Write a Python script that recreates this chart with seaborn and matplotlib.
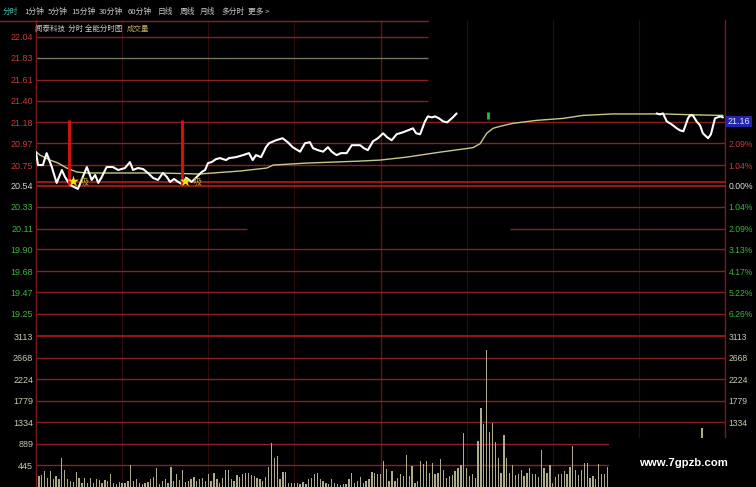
import numpy as np
import pandas as pd
import matplotlib.pyplot as plt
import matplotlib.transforms as mtransforms
from matplotlib.patches import Rectangle
from matplotlib.lines import Line2D
import seaborn as sns

# ---- 数据（从截图读出的估计值） ----
# 分时价格（白线），分钟 / 价格，seg 为截图中断开的两段
price_min = [0, 0.7, 2.4, 3.7, 5.5, 7.2, 9.0, 10.1, 11.8, 14.6, 15.9, 17.7, 19.4, 20.6, 21.7,
             22.9, 24.6, 26.8, 28.6, 31.0, 32.7, 33.8, 35.5, 37.3, 39.0, 40.8, 42.5, 44.2, 45.6,
             46.7, 48.1, 49.5, 50.7, 52.5, 54.2, 56.0, 57.7, 58.9, 59.9, 61.2, 62.7, 64.1, 66.2,
             67.2, 69.7, 72.1, 74.2, 75.5, 76.6, 78.4, 80.1, 81.2, 83.6, 85.9, 87.7, 89.4, 92.0,
             93.7, 95.4, 96.5, 98.2, 100.0, 101.7, 103.0, 104.7, 106.2, 108.2, 110.0, 112.9,
             114.2, 115.6, 117.4, 119.1, 120.9, 122.3, 123.9, 125.6, 127.8, 129.6, 131.3, 132.4,
             133.8, 135.5, 136.5, 137.9, 139.0, 140.4, 141.8, 143.2, 145.2, 146.5,
             216.2, 217.3, 218.4, 219.7, 221.4, 223.2, 224.3, 225.5, 227.1, 227.8, 228.8, 230.1,
             231.3, 232.3, 234.1, 235.1, 236.5, 238.3, 239.3]
price_val = [20.88, 20.75, 20.75, 20.87, 20.73, 20.57, 20.70, 20.63, 20.55, 20.51, 20.60, 20.73,
             20.60, 20.65, 20.57, 20.63, 20.73, 20.73, 20.70, 20.72, 20.78, 20.70, 20.72, 20.71,
             20.67, 20.62, 20.60, 20.67, 20.63, 20.58, 20.61, 20.58, 20.56, 20.62, 20.58, 20.63,
             20.68, 20.70, 20.77, 20.78, 20.81, 20.82, 20.80, 20.82, 20.83, 20.85, 20.87, 20.80,
             20.85, 20.83, 20.93, 20.97, 21.00, 21.02, 20.98, 20.93, 20.885, 20.97, 20.98, 20.92,
             20.90, 20.885, 20.93, 20.885, 20.85, 20.87, 20.87, 20.95, 20.95, 20.92, 20.90, 20.99,
             21.02, 21.07, 21.03, 21.00, 21.06, 21.08, 21.10, 21.12, 21.07, 21.06, 21.19, 21.24,
             21.23, 21.24, 21.22, 21.19, 21.18, 21.23, 21.27,
             21.27, 21.26, 21.27, 21.19, 21.16, 21.12, 21.10, 21.09, 21.22, 21.25, 21.25, 21.19,
             21.15, 21.07, 21.02, 21.06, 21.22, 21.24, 21.23]
price_seg = [0] * 91 + [1] * 19

# 均价线（黄线）
avg_min = [0, 1.4, 4.9, 7.7, 10.7, 14.2, 17.7, 43.2, 56.8, 71.1, 80.4, 82.6, 94.3, 112.9, 119.8,
           129.1, 140.7, 152.2, 154.7, 157.0, 159.2, 161.6, 166.1, 174.4, 183.6, 190.5, 201.0,
           218.4, 230.1, 239.3]
avg_val = [20.885, 20.85, 20.80, 20.77, 20.72, 20.68, 20.67, 20.67, 20.66, 20.69, 20.72, 20.75,
           20.77, 20.79, 20.80, 20.83, 20.88, 20.925, 20.965, 21.07, 21.12, 21.14, 21.17, 21.20,
           21.22, 21.25, 21.265, 21.265, 21.255, 21.25]

# 成交量（每分钟），上午+下午前段
vol_a = [620, 228, 240, 330, 190, 330, 160, 230, 160, 590, 360, 160, 120, 100, 300, 190, 90, 190,
         90, 190, 75, 170, 150, 90, 150, 120, 260, 90, 55, 100, 80, 90, 120, 450, 120, 170, 90, 55,
         90, 110, 160, 200, 400, 60, 120, 160, 90, 410, 125, 260, 150, 350, 110, 120, 160, 215,
         120, 160, 195, 120, 260, 125, 295, 160, 90, 195, 350, 350, 160, 120, 240, 210, 260, 280,
         285, 240, 225, 190, 160, 120, 200, 420, 910, 600, 640, 160, 310, 300, 90, 75, 90, 90, 55,
         100, 55, 160, 195, 260, 280, 170, 120, 75, 55, 160, 90]
vol_b = [55, 41, 55, 69, 159, 283, 90, 124, 207, 90, 124, 159, 317, 297, 262, 262, 538, 366, 124,
         331, 124, 193, 262, 228, 662, 228, 435, 90, 124, 538, 483, 538, 297, 504, 262, 297, 573,
         345, 193, 228, 248, 331, 400, 455, 1104, 400, 228, 276, 193, 952, 1628, 1297, 2829, 1125,
         1311, 918, 607, 297, 1076, 593, 297, 455, 248, 276, 345, 228, 297, 400, 276, 262, 207,
         759, 386, 297, 455, 90, 207, 262, 262, 331, 262, 414, 849, 345, 248, 345, 504, 504, 193,
         228, 159, 483, 262, 262, 414]
vol_late_min = [232]
vol_late = [1220]

# 信号（红竖线 + 星标）
signal_min = [11.6, 50.8]
signal_lo, signal_hi = 20.55, 21.20
star_min = [12.8, 51.9]
star_val = [20.59, 20.59]

# 刻度
price_ticks = [22.04, 21.83, 21.61, 21.40, 21.18, 20.97, 20.75, 20.54,
               20.33, 20.11, 19.90, 19.68, 19.47, 19.25]
pct_ticks = [20.97, 20.75, 20.54, 20.33, 20.11, 19.90, 19.68, 19.47, 19.25]
pct_labels = ["2.09%", "1.04%", "0.00%", "1.04%", "2.09%", "3.13%", "4.17%", "5.22%", "6.26%"]
vol_ticks = [3113, 2668, 2224, 1779, 1334, 889, 445]
prev_close = 20.54
last_price_label = "21.16"

menu_items = ["分时", "1分钟", "5分钟", "15分钟", "30分钟", "60分钟", "日线", "周线", "月线", "多分时", "更多 >"]

# ---- 样式 ----
sns.set_theme(style="dark", rc={"figure.facecolor": "black", "axes.facecolor": "black",
                                "savefig.facecolor": "black"})
plt.rcParams['font.family'] = ['Noto Sans CJK SC', 'DejaVu Sans']

W, H = 756, 487
RED = "#8a2020"
DIM = "#2e0b0b"


def box(x0, y0, x1, y1):
    return [x0 / W, 1 - y1 / H, (x1 - x0) / W, (y1 - y0) / H]


fig = plt.figure(figsize=(W / 100, H / 100), dpi=100)
ax = fig.add_axes(box(36, 20, 725, 325))
axv = fig.add_axes(box(36, 325, 725, 487))

ax.set_xlim(0, 240)
ax.set_ylim(19.139, 22.211)
axv.set_xlim(0, 240)
axv.set_ylim(0, 3340)

for a in (ax, axv):
    a.set_facecolor("black")
    a.grid(False)
    for s in ("top", "bottom"):
        a.spines[s].set_visible(False)
    for s in ("left", "right"):
        a.spines[s].set_color("#7a1a1a")
        a.spines[s].set_linewidth(1.0)
    a.set_xticks([])
    a.set_xlabel("")
    a.set_ylabel("")
    # 竖向网格
    a.vlines([30, 60, 90, 150, 180, 210], *a.get_ylim(), color=DIM, lw=0.8, zorder=1)
    a.vlines([120], *a.get_ylim(), color="#601414", lw=1.0, zorder=1)

# 横向网格
full_lines = [21.18, 20.97, 20.75, 20.33, 19.90, 19.68, 19.47, 19.25]
ax.hlines(full_lines, 0, 240, color=RED, lw=1.0, zorder=1)
ax.hlines([22.04, 21.61, 21.40], 0, 136.5, color=RED, lw=1.0, zorder=1)
ax.hlines([21.83], 0, 136.5, color="#6e7a5e", lw=1.0, zorder=1)
ax.hlines([20.11], 0, 73.5, color=RED, lw=1.0, zorder=1)
ax.hlines([20.11], 165, 240, color=RED, lw=1.0, zorder=1)
ax.hlines([prev_close, 20.575], 0, 240, color="#b01e1e", lw=1.2, zorder=1)
axv.hlines(vol_ticks[1:], 0, 240, color=RED, lw=1.0, zorder=1)
axv.hlines(vol_ticks[:1], 0, 240, color="#b01e1e", lw=1.2, zorder=1)

# 成交量柱
vol = vol_a + vol_b
vol_min = list(range(len(vol))) + vol_late_min
axv.bar(vol_min, vol + vol_late, width=0.45, color="#b0ab8c", linewidth=0, zorder=2)

# 价格线、均价线
df_price = pd.DataFrame({"min": price_min, "price": price_val, "seg": price_seg})
sns.lineplot(data=df_price, x="min", y="price", units="seg", estimator=None, sort=False,
             color="white", lw=1.5, ax=ax, zorder=4)
df_avg = pd.DataFrame({"min": avg_min, "avg": avg_val})
sns.lineplot(data=df_avg, x="min", y="avg", color="#c8c88a", lw=1.0, ax=ax, zorder=3)
ax.set_xlabel("")
ax.set_ylabel("")

# 信号
ax.vlines(signal_min, signal_lo, signal_hi, color="#e01010", lw=2.0, zorder=5)
ax.scatter(star_min, star_val, marker="*", s=70, color="#f2e21c", zorder=6, linewidths=0)
for m, v in zip(star_min, star_val):
    ax.text(m + 2.4, v - 0.01, "吸", color="#c0a838", fontsize=6.5, va="center", ha="left", zorder=6)
ax.vlines([157.5], 21.21, 21.28, color="#22c822", lw=2.0, zorder=5)

# 左侧刻度
ax.set_yticks(price_ticks, labels=[f"{v:.2f}" for v in price_ticks])
ax.tick_params(axis="y", length=0, pad=2.0, labelsize=6.5)
for v, t in zip(price_ticks, ax.get_yticklabels()):
    t.set_family("Liberation Sans")
    t.set_color("#c83c3c" if v > prev_close else ("#d0d0d0" if v == prev_close else "#3cb43c"))
axv.set_yticks(vol_ticks, labels=[str(v) for v in vol_ticks])
axv.tick_params(axis="y", length=0, pad=2.0, labelsize=6.5, labelcolor="#c8c8b4")
for t in axv.get_yticklabels():
    t.set_family("Liberation Sans")

# 右侧刻度
axr = ax.twinx()
axr.set_ylim(ax.get_ylim())
axr.set_yticks(pct_ticks, labels=pct_labels)
axr.tick_params(axis="y", length=0, pad=2.5, labelsize=6.2)
for v, t in zip(pct_ticks, axr.get_yticklabels()):
    t.set_family("Liberation Sans")
    t.set_color("#c83c3c" if v > prev_close else ("#e0e0e0" if v == prev_close else "#3cb43c"))
axvr = axv.twinx()
axvr.set_ylim(axv.get_ylim())
axvr.set_yticks(vol_ticks, labels=[str(v) for v in vol_ticks])
axvr.tick_params(axis="y", length=0, pad=2.5, labelsize=6.2, labelcolor="#c8c8b4")
for t in axvr.get_yticklabels():
    t.set_family("Liberation Sans")
for a in (axr, axvr):
    a.grid(False)
    for s in a.spines.values():
        s.set_visible(False)

# 最新价标签
trans = mtransforms.blended_transform_factory(ax.transAxes, ax.transData)
ax.text(1.004, price_val[-1] - 0.04, last_price_label, transform=trans, color="#dde4ff",
        fontsize=6.5, family="Liberation Sans", va="center", ha="left", zorder=7,
        bbox=dict(boxstyle="square,pad=0.15", fc="#2424a8", ec="none"), clip_on=False)

# 顶部菜单
menu_x = [3, 24, 48, 71, 99, 128, 158, 180, 200, 221, 248]
for i, (lbl, x) in enumerate(zip(menu_items, menu_x)):
    fig.text(x / W, 1 - 12 / H, lbl, color="#3cc0b0" if i == 0 else "#c8c8c8",
             fontsize=5.6, va="center", ha="left")
fig.add_artist(Line2D([0, 428 / W], [1 - 21 / H] * 2, color="#8a2020", lw=1.0))
fig.text(35 / W, 1 - 29 / H, "闻泰科技  分时 全能分时图", color="#c8c8c8", fontsize=5.4,
         va="center", ha="left")
fig.text(127 / W, 1 - 29 / H, "成交量", color="#c0a860", fontsize=5.4, va="center", ha="left")

# 右下角遮挡与水印
fig.add_artist(Rectangle((609 / W, 0), (W - 609) / W, (487 - 438) / H, transform=fig.transFigure,
                         fc="black", ec="none", zorder=10))
fig.text(683 / W, 1 - 463 / H, "www.7gpzb.com", color="white", fontsize=8.2, weight="bold",
         family="Liberation Sans", ha="center", va="center", zorder=11)

fig.savefig("out.png", dpi=100, facecolor="black")
